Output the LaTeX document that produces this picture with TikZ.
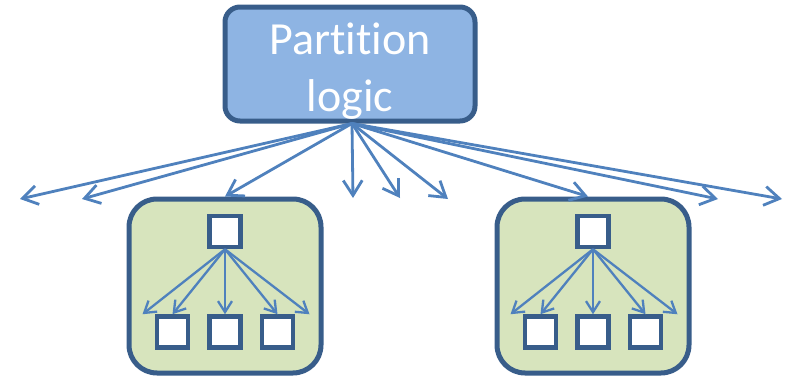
\documentclass[tikz,border=0pt]{standalone}
\usepackage{fontspec}
\setmainfont{Carlito}[Ligatures=NoCommon]
\usetikzlibrary{arrows.meta,positioning}
\definecolor{boxline}{HTML}{385D8A}
\definecolor{logicfill}{HTML}{8EB4E3}
\definecolor{groupfill}{HTML}{D7E4BD}
\definecolor{arrowblue}{HTML}{4F81BD}

\begin{document}
\begin{tikzpicture}[x=1pt,y=-1pt]
\tikzstyle{logicbox}=[draw=boxline,fill=logicfill,line width=5pt,rounded corners=15pt,minimum width=250pt,minimum height=114pt]
\tikzstyle{logictext}=[align=center,text=white,font=\fontsize{46}{57}\selectfont]
\tikzstyle{group}=[draw=boxline,fill=groupfill,line width=5pt,rounded corners=28pt,minimum width=192pt,minimum height=174pt]
\tikzstyle{cell}=[draw=boxline,fill=white,line width=4.5pt,minimum size=31pt,inner sep=0pt]
\tikzstyle{fan}=[draw=arrowblue,line width=2.8pt,-{Straight Barb[length=15pt,width=19pt]}]
\tikzstyle{sub}=[draw=arrowblue,line width=2.3pt,-{Straight Barb[length=11pt,width=14pt]}]
\useasboundingbox (0,0) rectangle (788,380);

\node[logicbox] (logic) at (350,64) {};
\node[logictext] (title) at ([yshift=-7pt]logic.center) {Partition\\logic};
\coordinate (src) at ([xshift=2pt]logic.south);

\foreach \g/\x in {l/225,r/593}{
  \node[group] (\g box) at (\x,286) {};
  \node[cell] (\g top) at (\x,231.5) {};
  \node[cell,below=65pt of \g top] (\g b2) {};
  \node[cell,left=17pt of \g b2] (\g b1) {};
  \node[cell,right=17pt of \g b2] (\g b3) {};
  \draw[sub] (\g top.south) -- ([xshift=-30pt]\g b1.north);
  \draw[sub] (\g top.south) -- (\g b1.north);
  \draw[sub] (\g top.south) -- (\g b2.north);
  \draw[sub] (\g top.south) -- (\g b3.north);
  \draw[sub] (\g top.south) -- ([xshift=32pt]\g b3.north);
}

\coordinate (f1) at (20,199);
\coordinate (f2) at (82,199);
\coordinate (f4) at (353,198);
\coordinate (f5) at (400,198);
\coordinate (f6) at (448,199);
\coordinate (f8) at (718,199);
\coordinate (f9) at (782,199);

\draw[fan] (src) -- (f1);
\draw[fan] (src) -- (f2);
\draw[fan] (src) -- (lbox.north);
\draw[fan] (src) -- (f4);
\draw[fan] (src) -- (f5);
\draw[fan] (src) -- (f6);
\draw[fan] (src) -- ([xshift=-5pt]rbox.north);
\draw[fan] (src) -- (f8);
\draw[fan] (src) -- (f9);
\end{tikzpicture}
\end{document}
